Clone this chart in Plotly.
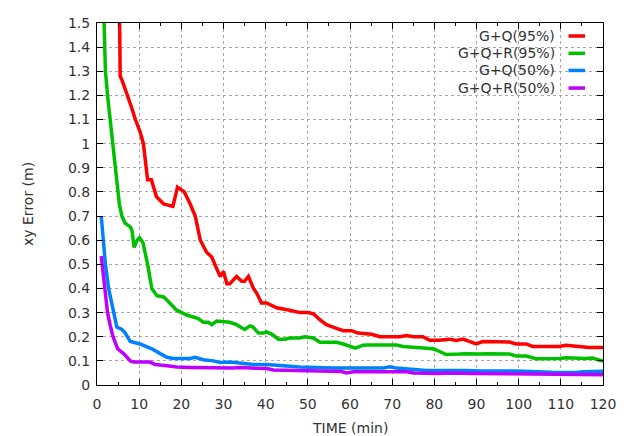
import plotly.graph_objects as go

# ---- data ----
series_names = ["G+Q(95%)", "G+Q+R(95%)", "G+Q(50%)", "G+Q+R(50%)"]

t_gq95 = [5.3, 5.5, 6.0, 7.3, 8.2, 9.1, 10.2, 11.0, 11.5, 12.0, 12.9, 14.1, 15.8, 17.5, 18.0,
          19.1, 20.7, 22.1, 23.3, 24.5, 26.0, 27.2, 29.2, 30.0, 30.8, 31.5, 33.1, 34.3, 35.0,
          35.9, 37.1, 37.9, 39.0, 40.2, 42.6, 45.7, 48.1, 50.1, 51.3, 52.9, 54.4, 56.8, 58.4,
          60.4, 61.9, 65.1, 67.1, 71.8, 73.4, 75.0, 77.3, 78.9, 81.3, 83.6, 85.2, 86.8, 88.4,
          89.9, 91.5, 93.9, 97.8, 99.4, 101.8, 103.3, 109.6, 111.2, 115.1, 116.7, 120.0]
v_gq95 = [1.6, 1.28, 1.26, 1.2, 1.15, 1.1, 1.05, 1.0, 0.92, 0.85, 0.85, 0.78, 0.75, 0.74, 0.74,
          0.82, 0.80, 0.75, 0.70, 0.60, 0.55, 0.53, 0.45, 0.47, 0.42, 0.42, 0.45, 0.43, 0.43,
          0.45, 0.40, 0.38, 0.34, 0.34, 0.32, 0.31, 0.30, 0.30, 0.295, 0.27, 0.25, 0.235, 0.225,
          0.225, 0.215, 0.21, 0.20, 0.20, 0.205, 0.20, 0.20, 0.185, 0.185, 0.19, 0.185, 0.19, 0.18,
          0.17, 0.18, 0.18, 0.178, 0.17, 0.17, 0.16, 0.16, 0.165, 0.16, 0.155, 0.155]

t_gqr95 = [1.6, 1.8, 2.0, 2.5, 3.15, 3.8, 4.3, 4.9, 5.3, 5.9, 6.7, 7.9, 8.3, 8.8, 9.5, 10.1,
           10.9, 12.0, 13.0, 14.2, 15.8, 16.1, 17.7, 18.9, 21.3, 22.5, 24.0, 25.2, 26.4, 27.2,
           28.4, 31.5, 33.1, 35.0, 36.3, 37.0, 38.3, 39.5, 40.2, 41.5, 43.0, 44.6, 45.7, 48.0,
           49.3, 51.3, 52.9, 56.8, 58.4, 61.3, 63.1, 64.0, 71.0, 72.6, 77.3, 79.7, 80.5, 82.8,
           86.0, 87.6, 90.7, 92.3, 97.8, 99.4, 101.8, 104.1, 109.6, 111.2, 115.9, 117.5, 119.6, 120.0]
v_gqr95 = [1.55, 1.4, 1.3, 1.2, 1.1, 1.0, 0.9, 0.8, 0.75, 0.70, 0.67, 0.655, 0.64, 0.57, 0.60, 0.61,
           0.59, 0.50, 0.40, 0.37, 0.365, 0.36, 0.33, 0.31, 0.29, 0.285, 0.275, 0.26, 0.26, 0.25,
           0.265, 0.26, 0.25, 0.23, 0.245, 0.24, 0.215, 0.215, 0.22, 0.21, 0.19, 0.19, 0.195, 0.195,
           0.20, 0.195, 0.177, 0.177, 0.17, 0.153, 0.165, 0.166, 0.166, 0.16, 0.155, 0.15, 0.145, 0.126,
           0.128, 0.13, 0.128, 0.13, 0.128, 0.12, 0.12, 0.109, 0.11, 0.113, 0.11, 0.112, 0.101, 0.101]

t_gq50 = [1.0, 1.4, 2.0, 2.75, 3.9, 4.7, 5.9, 6.7, 7.2, 7.9, 10.2, 12.2, 13.0, 15.0, 16.6, 18.1,
          22.1, 23.3, 25.2, 27.6, 29.2, 31.5, 34.7, 37.1, 40.2, 43.4, 48.1, 52.1, 56.0, 67.8,
          69.4, 71.0, 74.2, 78.1, 87.6, 90.7, 99.4, 103.3, 108.0, 113.6, 115.1, 120.0]
v_gq50 = [0.70, 0.60, 0.50, 0.40, 0.30, 0.24, 0.23, 0.215, 0.20, 0.18, 0.17, 0.155, 0.15, 0.13, 0.115, 0.11,
          0.11, 0.115, 0.105, 0.10, 0.093, 0.095, 0.09, 0.085, 0.085, 0.08, 0.075, 0.072, 0.07, 0.07,
          0.075, 0.07, 0.065, 0.06, 0.06, 0.058, 0.058, 0.055, 0.053, 0.052, 0.055, 0.057]

t_gqr50 = [1.0, 1.5, 1.73, 2.5, 3.1, 3.8, 4.9, 6.3, 7.9, 8.7, 12.6, 13.8, 16.6, 18.9, 22.1, 27.0,
           32.3, 33.9, 40.2, 41.8, 48.1, 52.8, 56.0, 58.0, 59.2, 60.8, 73.4, 75.0, 81.3, 82.9,
           89.1, 103.3, 108.0, 120.0]
v_gqr50 = [0.534, 0.45, 0.40, 0.30, 0.25, 0.20, 0.15, 0.13, 0.10, 0.095, 0.095, 0.085, 0.08, 0.075, 0.073, 0.07,
           0.07, 0.072, 0.068, 0.062, 0.06, 0.058, 0.058, 0.056, 0.05, 0.055, 0.055, 0.05, 0.048, 0.05,
           0.048, 0.045, 0.043, 0.042]

colors = ["#ff0000", "#00c000", "#0080ff", "#c000ff"]

x_ticks = list(range(0, 121, 10))
y_ticks = [0, 0.1, 0.2, 0.3, 0.4, 0.5, 0.6, 0.7, 0.8, 0.9, 1.0, 1.1, 1.2, 1.3, 1.4, 1.5]
y_tick_text = ["0", "0.1", "0.2", "0.3", "0.4", "0.5", "0.6", "0.7", "0.8", "0.9",
               "1", "1.1", "1.2", "1.3", "1.4", "1.5"]

xs = [t_gq95, t_gqr95, t_gq50, t_gqr50]
ys = [v_gq95, v_gqr95, v_gq50, v_gqr50]

FONT = "DejaVu Sans"
TXT = "#333333"
LW = 3.5

fig = go.Figure()
for name, x, y, c in zip(series_names, xs, ys, colors):
    fig.add_trace(go.Scatter(x=x, y=y, mode="lines", name=name,
                             line=dict(color=c, width=LW), showlegend=False))

# page has an 8px body margin: figure is shrunk so that the plot area lands where the original's does
OFF = 8
W, H = 631 - OFF, 436 - OFF
ml, mr, mt, mb = 89, 28, 7, 51
pw, ph = W - ml - mr, H - mt - mb

def px_x(p):
    return (p - OFF - ml) / pw

def px_y(p):
    return (H - mb - (p - OFF)) / ph

# legend drawn manually (text on the left, sample line on the right, like the original)
leg_y = [28.3, 46, 63.5, 81.5]
for name, c, yy in zip(series_names, colors, leg_y):
    fig.add_annotation(x=px_x(557), y=px_y(yy), xref="paper", yref="paper",
                       text=name, showarrow=False, xanchor="right", yanchor="middle",
                       font=dict(family=FONT, size=14, color=TXT))
    fig.add_shape(type="line", xref="paper", yref="paper",
                  x0=px_x(568.5), x1=px_x(585), y0=px_y(yy), y1=px_y(yy),
                  line=dict(color=c, width=LW))

fig.add_annotation(x=0.5, y=px_y(429), xref="paper", yref="paper", text="TIME (min)",
                   showarrow=False, xanchor="center", yanchor="middle",
                   font=dict(family=FONT, size=14, color=TXT))
fig.add_annotation(x=px_x(28), y=0.5, xref="paper", yref="paper", text="xy Error (m)",
                   showarrow=False, xanchor="center", yanchor="middle", textangle=-90,
                   font=dict(family=FONT, size=14, color=TXT))

fig.update_layout(
    width=W, height=H,
    margin=dict(l=ml, r=mr, t=mt, b=mb, pad=0),
    paper_bgcolor="white", plot_bgcolor="white",
    font=dict(family=FONT, size=14, color=TXT),
    showlegend=False,
)
fig.update_xaxes(
    range=[0, 120], tickvals=x_ticks, ticks="inside", ticklen=6, tickcolor="black",
    showline=True, linecolor="black", linewidth=1, mirror="allticks",
    showgrid=True, gridcolor="#a8a8a8", griddash="dot", gridwidth=1,
    zeroline=False, ticklabelstandoff=6, ticklabeloverflow="allow",
    minor=dict(tickvals=list(range(5, 120, 10)), ticks="inside", ticklen=3,
               tickcolor="black", showgrid=False),
)
fig.update_yaxes(
    range=[0, 1.5], tickvals=y_ticks, ticktext=y_tick_text, ticks="inside", ticklen=6,
    tickcolor="black", showline=True, linecolor="black", linewidth=1, mirror="allticks",
    showgrid=True, gridcolor="#a8a8a8", griddash="dot", gridwidth=1,
    zeroline=False, ticklabelstandoff=3, ticklabeloverflow="allow",
)

fig.write_html("out.html")
